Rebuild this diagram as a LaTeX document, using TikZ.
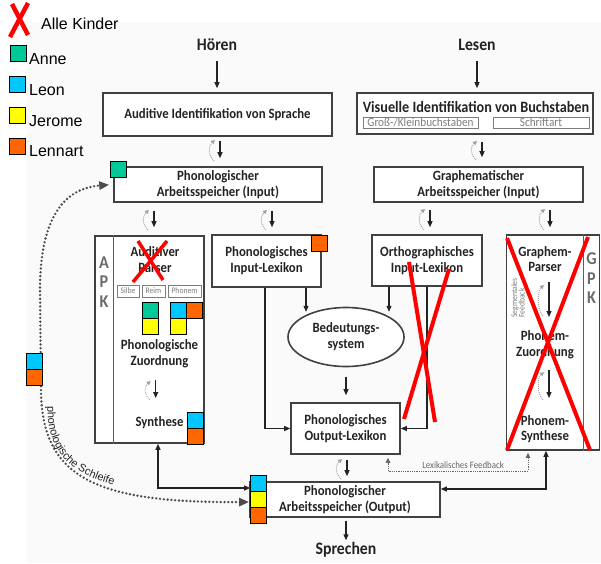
\documentclass[tikz,border=0pt]{standalone}
\usepackage{fontspec}
\setmainfont{Carlito}[FakeStretch=0.9]
\newfontfamily\legfont{Liberation Sans}
\usetikzlibrary{arrows.meta,decorations.text,shapes.geometric,calc}
\definecolor{cgreen}{RGB}{0,200,150}
\definecolor{cblue}{RGB}{0,200,255}
\definecolor{cyel}{RGB}{255,255,0}
\definecolor{corange}{RGB}{255,102,0}
\definecolor{boxline}{RGB}{65,65,65}
\definecolor{txt}{RGB}{35,35,35}
\definecolor{subgray}{RGB}{125,125,125}
\definecolor{bggray}{RGB}{250,250,250}
\newcommand\fbk[3]{\draw[fbs] ({#1-6},{#3+2}) .. controls ({#1-12},{#3-4}) and ({#1-12},{#2+6}) .. ({#1-5},{#2});}
\begin{document}
\begin{tikzpicture}[x=1pt,y=-1pt,
  hdr/.style={font=\fontsize{17.5}{20}\selectfont\bfseries,text=txt,inner sep=1pt},
  btxt/.style={font=\fontsize{14.2}{16}\selectfont\bfseries,text=txt,align=center,inner sep=0pt},
  box/.style={draw=boxline,line width=1.6pt,fill=white,inner sep=0pt},
  sub/.style={draw=subgray,line width=0.8pt,fill=white,inner sep=0pt,text=subgray,font=\fontsize{12.5}{12.5}\selectfont},
  sq/.style={draw=black,line width=0.8pt,minimum size=16pt,inner sep=0pt},
  arr/.style={draw=txt,line width=1.1pt,-{Triangle[length=6pt,width=5pt]}},
  arrb/.style={draw=txt,line width=1.1pt,{Triangle[length=6pt,width=5pt]}-{Triangle[length=6pt,width=5pt]}},
  fbs/.style={draw=gray!75,line width=0.9pt,dash pattern=on 0.9pt off 1.1pt,-{Triangle[length=4pt,width=4pt]}},
  loopst/.style={draw=black!70,line width=2.6pt,line cap=round,dash pattern=on 0pt off 3.8pt,{Triangle[length=10pt,width=8pt]}-{Triangle[length=10pt,width=8pt]}},
  lexst/.style={draw=black!60,line width=0.8pt,dash pattern=on 0.8pt off 1pt,{Triangle[length=5pt,width=4.5pt]}-{Triangle[length=5pt,width=4.5pt]}},
  redx/.style={draw=red,line width=4pt},
  sidelet/.style={font=\fontsize{18}{19.5}\selectfont\bfseries,text=black!58,align=center,inner sep=0pt},
  legtxt/.style={font=\legfont\fontsize{16}{18}\selectfont,text=black,inner sep=0pt},
  inl/.style={draw=boxline!85,line width=1pt}
]
\useasboundingbox (0,0) rectangle (601,563);
\fill[bggray] (27,22) rectangle (601,563);

% legend
\draw[redx,line width=4.5pt] (12,4) -- (28,35);
\draw[redx,line width=4.5pt] (28,3) -- (10,37);
\node[legtxt,anchor=west] (lgAll) at (41,24) {Alle Kinder};
\node[sq,fill=cgreen] (lgAs) at (18,53) {};
\node[legtxt,anchor=west] (lgA) at (29,59) {Anne};
\node[sq,fill=cblue] (lgLs) at (17,84.5) {};
\node[legtxt,anchor=west] (lgL) at (29,90) {Leon};
\node[sq,fill=cyel] (lgJs) at (17,115) {};
\node[legtxt,anchor=west] (lgJ) at (29,121) {Jerome};
\node[sq,fill=corange] (lgNs) at (17,146) {};
\node[legtxt,anchor=west] (lgN) at (29,151) {Lennart};

% headers
\node[hdr] (hoeren) at (217,45) {Hören};
\node[hdr] (lesen) at (477,45) {Lesen};
\node[hdr] (sprechen) at (346,550) {Sprechen};

% boxes
\node[box,btxt,minimum width=229pt,minimum height=43pt] (aud) at (217.5,114.5) {Auditive Identifikation von Sprache};
\node[box,minimum width=236pt,minimum height=41pt] (vis) at (475,113.5) {};
\node[btxt,font=\fontsize{15.8}{17}\selectfont\bfseries] (vist) at (476,106.5) {Visuelle Identifikation von Buchstaben};
\node[sub,minimum width=115pt,minimum height=11pt] (visA) at (420.5,122.5) {Groß-/Kleinbuchstaben};
\node[sub,minimum width=96pt,minimum height=11pt] (visB) at (541,122.5) {Schriftart};
\node[box,btxt,minimum width=208pt,minimum height=35pt] (phin) at (218,184.5) {Phonologischer\\Arbeitsspeicher (Input)};
\node[box,btxt,minimum width=209pt,minimum height=35pt] (grin) at (478.5,184.5) {Graphematischer\\Arbeitsspeicher (Input)};
\node[box,minimum width=109pt,minimum height=207pt] (apk) at (149.5,339.5) {};
\node[box,btxt,minimum width=109pt,minimum height=52pt] (pil) at (266.5,261) {Phonologisches\\Input-Lexikon};
\node[box,btxt,minimum width=110pt,minimum height=51pt] (oil) at (427,260.5) {Orthographisches\\Input-Lexikon};
\node[box,minimum width=93pt,minimum height=215pt] (gpk) at (553,342.5) {};
\node[box,btxt,ellipse,minimum width=116pt,minimum height=59pt] (bed) at (346,337) {Bedeutungs-\\system};
\node[box,btxt,minimum width=109pt,minimum height=51pt] (pol) at (345.5,428.5) {Phonologisches\\Output-Lexikon};
\node[box,btxt,minimum width=190pt,minimum height=35pt] (pout) at (345,499.5) {Phonologischer\\Arbeitsspeicher (Output)};

% APK inside
\coordinate (apkL) at (113.5,0);
\draw[inl] (apk.north -| apkL) -- (apk.south -| apkL);
\node[sidelet] (apkLet) at (104,282) {A\\P\\K};
\node[btxt] (apkP) at (155,260) {Auditiver\\Parser};
\node[sub,font=\fontsize{8.5}{9}\selectfont,minimum width=22pt,minimum height=12pt] (silbe) at (128,291) {Silbe};
\node[sub,font=\fontsize{8.5}{9}\selectfont,minimum width=23pt,minimum height=12pt] (reim) at (153.5,291) {Reim};
\node[sub,font=\fontsize{8.5}{9}\selectfont,minimum width=33pt,minimum height=12pt] (phonem) at (184.5,291) {Phonem};
\node[btxt] (apkZ) at (159.5,353.5) {Phonologische\\Zuordnung};
\node[btxt] (apkS) at (159.5,423) {Synthese};
\coordinate (ai1) at (155.7,380);
\coordinate (ai2) at (155.7,398);
\draw[arr] (ai1) -- (ai2);
\fbk{155.7}{381}{398}

% GPK inside
\coordinate (gpkL) at (583,0);
\draw[inl] (gpk.north -| gpkL) -- (gpk.south -| gpkL);
\node[sidelet] (gpkLet) at (591.5,278.5) {G\\P\\K};
\node[btxt,font=\fontsize{14.2}{15.5}\selectfont\bfseries] (gp1) at (545,259) {Graphem-\\Parser};
\node[btxt,font=\fontsize{14.2}{15.5}\selectfont\bfseries] (gp2) at (545,344.5) {Phonem-\\Zuordnung};
\node[btxt,font=\fontsize{14.2}{15.5}\selectfont\bfseries] (gp3) at (545,429) {Phonem-\\Synthese};
\node[rotate=90,font=\fontsize{8.5}{7.5}\selectfont,text=subgray,align=left,inner sep=0pt] (segfb) at (518,298) {Segmentales\\Feedback};
\coordinate (gi1) at (549,282);
\coordinate (gi2) at (549,317);
\coordinate (gi3) at (549,370);
\coordinate (gi4) at (549,398);
\draw[arr] (gi1) -- (gi2);
\fbk{549}{285}{314}
\draw[arr] (gi3) -- (gi4);
\fbk{549}{372}{398}

% connectors
\draw[arr,shorten <=9pt,shorten >=4pt] (hoeren.south) -- (hoeren.south |- aud.north);
\draw[arr,shorten <=9pt,shorten >=4pt] (lesen.south) -- (lesen.south |- vis.north);
\coordinate (xAud) at (220,0);
\coordinate (xVis) at (482,0);
\coordinate (xP1) at (154,0);
\coordinate (xP2) at (272,0);
\coordinate (xG1) at (430,0);
\coordinate (xG2) at (550,0);
\coordinate (xPb) at (306,0);
\coordinate (xOb) at (389,0);
\coordinate (xPl) at (265,0);
\coordinate (xOl) at (427,0);
\coordinate (xPo) at (347,0);
\draw[arr,shorten <=4pt,shorten >=8pt] (aud.south -| xAud) -- (phin.north -| xAud);
\fbk{220}{140}{159}
\draw[arr,shorten <=7pt,shorten >=9pt] (vis.south -| xVis) -- (grin.north -| xVis);
\fbk{482}{141}{158}
\draw[arr,shorten <=8pt,shorten >=8pt] (phin.south -| xP1) -- (apk.north -| xP1);
\fbk{154}{210}{228}
\draw[arr,shorten <=8pt,shorten >=7pt] (phin.south -| xP2) -- (pil.north -| xP2);
\fbk{272}{210}{228}
\draw[arr,shorten <=7pt,shorten >=7pt] (grin.south -| xG1) -- (oil.north -| xG1);
\fbk{430}{209}{228}
\draw[arr,shorten <=7pt,shorten >=7pt] (grin.south -| xG2) -- (gpk.north -| xG2);
\fbk{550}{209}{228}
\draw[arr] (pil.south -| xPb) -- ++(0,24);
\draw[arr] (oil.south -| xOb) -- ++(0,25);
\draw[arr] (pil.south -| xPl) |- (pol.west);
\draw[arr] (oil.south -| xOl) |- (pol.east);
\draw[arr,shorten <=10pt,shorten >=7pt] (bed.south) -- (bed.south |- pol.north);
\draw[arr,shorten <=5pt,shorten >=5pt] (pol.south -| xPo) -- (pout.north -| xPo);
\fbk{347}{459}{477}
\draw[arr,shorten <=3pt,shorten >=1pt] (pout.south -| sprechen.north) -- (sprechen.north);

% pout squares
\node[sq,fill=cblue] (pblue) at (258.5,483) {};
\node[sq,fill=cyel] (pyel) at (258.5,499) {};
\node[sq,fill=corange] (porg) at (258.5,515) {};

\coordinate (cL) at (158,488);
\draw[arrb] (apk.south -| cL) -- (cL) -- (pblue.west |- cL);
\coordinate (cR) at (546,489);
\draw[arrb] (gpk.south -| cR) -- (cR) -- (pout.east |- cR);
\coordinate (lfL) at (388,471);
\coordinate (lfR) at (528,471);
\draw[lexst,shorten <=3pt,shorten >=2pt] (pol.south -| lfL) -- (lfL) -- (lfR) -- (gpk.south -| lfR);
\node[font=\fontsize{9.8}{10}\selectfont,text=black!60,inner sep=0pt] (lexfb) at (463,465.5) {Lexikalisches Feedback};

% phonological loop
\draw[loopst,shorten >=4pt,shorten <=1pt] (pyel.west |- 0,502) .. controls (95,503) and (40,478) .. (41,386) -- (40,290) .. controls (40,212) and (68,188) .. (phin.west);
\path[decorate,decoration={text along path,text={|\legfont\fontsize{11}{12}\selectfont\color{txt}|phonologische Schleife},text align=left}] (47.5,406) .. controls (47,474) and (95,497) .. (250,497);

% squares
\node[sq,fill=cgreen] (phinS) at (118,169.5) {};
\node[sq,fill=corange] (pilS) at (319,243.5) {};
\node[sq,fill=cgreen] (reimG) at (150.5,310.5) {};
\node[sq,fill=cyel] (reimY) at (150.5,326.5) {};
\node[sq,fill=cblue] (phonB) at (178,310.5) {};
\node[sq,fill=corange] (phonO) at (194,310.5) {};
\node[sq,fill=cyel] (phonY) at (178,326.5) {};
\node[sq,fill=cblue] (synB) at (195.5,420) {};
\node[sq,fill=corange] (synO) at (195.5,436) {};
\node[sq,fill=cblue] (loopB) at (34,361) {};
\node[sq,fill=corange] (loopO) at (34,377) {};

% red crosses
\draw[redx,line width=3.5pt] (133,282) -- (167,241);
\draw[redx,line width=3.5pt] (138,241) -- (163,280);
\draw[redx] (409,262) -- (435,422);
\draw[redx] (449,269) -- (404,419);
\draw[redx] (507,238) -- (590,450);
\draw[redx] (588,237) -- (507,450);
\end{tikzpicture}
\end{document}
